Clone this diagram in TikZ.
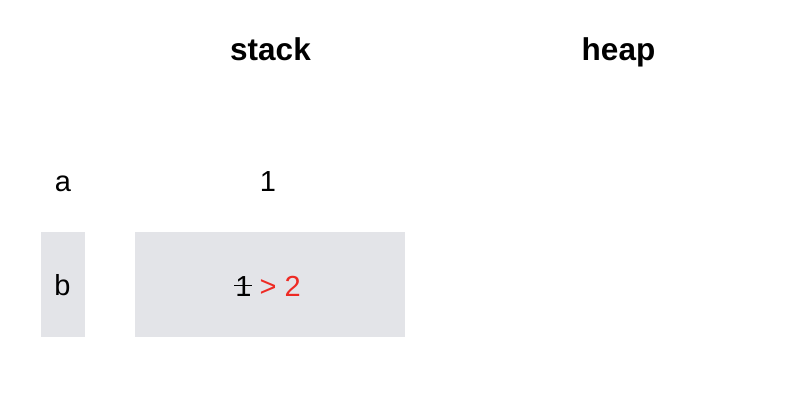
\documentclass[tikz,border=0pt]{standalone}
\usepackage{fontspec}
\setmainfont{Liberation Sans}
\definecolor{boxgray}{HTML}{E3E4E8}
\definecolor{redtxt}{HTML}{EE2A24}
\newcommand\strikedigit[1]{\ooalign{#1\cr\hidewidth\rule[0.33em]{0.62em}{0.055em}\hidewidth\cr}}
\begin{document}
\begin{tikzpicture}[x=1pt,y=-1pt,
  title/.style={font=\fontsize{31.5}{31.5}\selectfont\bfseries, inner sep=0pt, anchor=base},
  lbl/.style={font=\fontsize{29}{29}\selectfont, inner sep=0pt, anchor=base},
  cell/.style={fill=boxgray, draw=none}]
\useasboundingbox (0,0) rectangle (796,402);
\fill[white] (0,0) rectangle (796,402);
\node[cell, minimum width=44pt, minimum height=105pt, inner sep=0pt] (bbox) at (63,284.5) {};
\node[cell, minimum width=270pt, minimum height=105pt, inner sep=0pt] (valbox) at (270,284.5) {};
\node[title] (stack) at (270.5,60) {stack};
\node[title] (heap) at (618.5,60) {heap};
\node[lbl] (a) at (63,191) {a};
\node[lbl] (aval) at (268,191.5) {1};
\node[lbl] (b) at (62.5,295) {b};
\node[lbl] (bval) at (268,296) {\strikedigit{1} \textcolor{redtxt}{> 2}};
\end{tikzpicture}
\end{document}
